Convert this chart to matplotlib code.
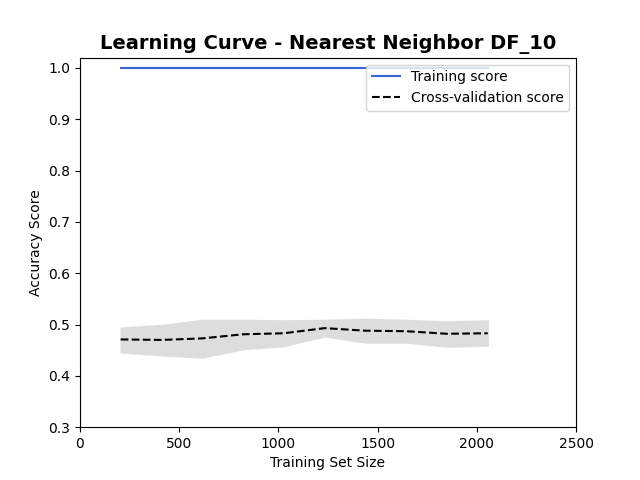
import numpy as np
import matplotlib.pyplot as plt

train_sizes = [205, 411, 616, 822, 1027, 1233, 1438, 1644, 1849, 2055]
train_mean = [1.0, 1.0, 1.0, 1.0, 1.0, 1.0, 1.0, 1.0, 1.0, 1.0]
test_mean = [0.471, 0.470, 0.473, 0.481, 0.483, 0.493, 0.488, 0.487, 0.482, 0.483]
test_upper = [0.494, 0.499, 0.509, 0.509, 0.508, 0.509, 0.511, 0.509, 0.506, 0.508]
test_lower = [0.446, 0.440, 0.436, 0.452, 0.458, 0.477, 0.465, 0.465, 0.457, 0.459]

fig, ax = plt.subplots(figsize=(6.4, 4.8), dpi=100)
ax.plot(train_sizes, train_mean, color='#3a62d8', label='Training score')
ax.plot(train_sizes, test_mean, '--', color='black', label='Cross-validation score')
ax.fill_between(train_sizes, test_lower, test_upper, color='#dddddd')

ax.set_title('Learning Curve - Nearest Neighbor DF_10', fontsize=14, fontweight='bold')
ax.set_xlabel('Training Set Size')
ax.set_ylabel('Accuracy Score')
ax.set_xlim(0, 2500)
ax.set_ylim(0.3, 1.02)
ax.set_yticks(np.arange(0.3, 1.01, 0.1))
ax.legend(loc='upper right')
fig.savefig('out.png')
